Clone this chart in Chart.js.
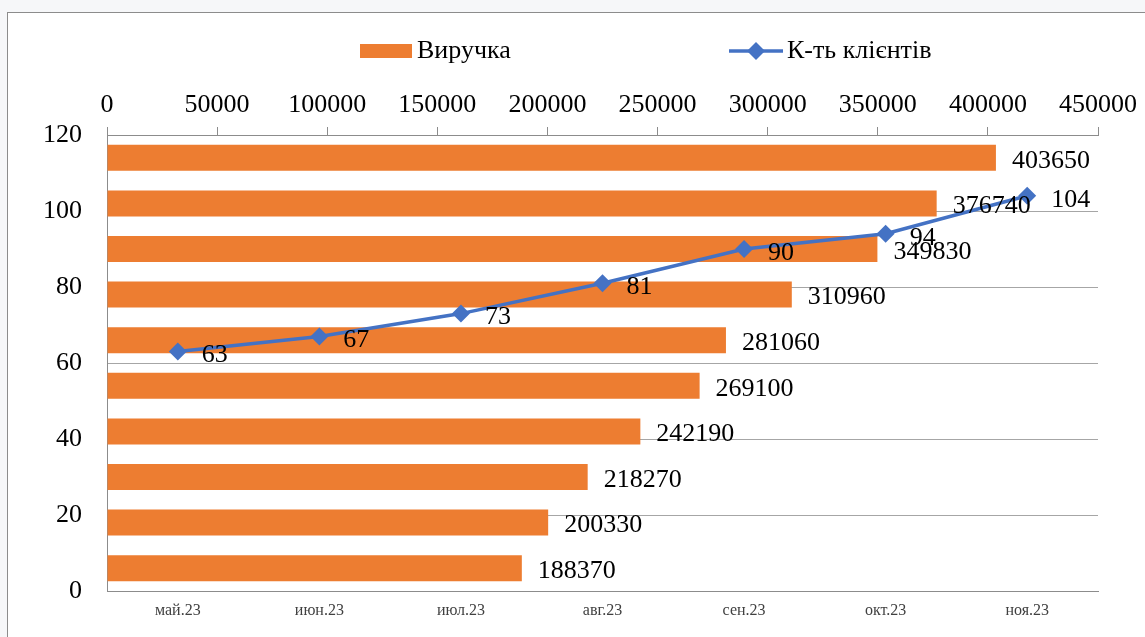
<!DOCTYPE html>
<html lang="uk">
<head>
<meta charset="utf-8">
<title>Виручка та кількість клієнтів</title>
<script src="https://cdn.jsdelivr.net/npm/chart.js@4/dist/chart.umd.min.js"></script>
<style>
  html, body { margin: 0; padding: 0; background: #f6f7f9; overflow: hidden; }
  #frame {
    position: absolute; left: 7px; top: 12px; width: 1200px; height: 700px;
    background: #fff; border-left: 1px solid #8c8c8c; border-top: 1px solid #8c8c8c;
  }
  #chart { position: absolute; left: 0; top: 0; }
</style>
</head>
<body>
<div id="frame"></div>
<canvas id="chart" width="1145" height="637"></canvas>
<script>
// bottom axis: months for the client count line
const months = ['май.23', 'июн.23', 'июл.23', 'авг.23', 'сен.23', 'окт.23', 'ноя.23'];
const clients = [63, 67, 73, 81, 90, 94, 104];

// horizontal revenue bars, listed from the bottom bar up
const revenueRows = ['1', '2', '3', '4', '5', '6', '7', '8', '9', '10'];
const revenue = [188370, 200330, 218270, 242190, 269100, 281060, 310960, 349830, 376740, 403650];

const seriesNames = ['Виручка', 'К-ть клієнтів'];
const revenueTicks = [0, 50000, 100000, 150000, 200000, 250000, 300000, 350000, 400000, 450000];
const clientTicks = [0, 20, 40, 60, 80, 100, 120];

const ORANGE = '#ED7D31';
const BLUE = '#4472C4';
const SERIF = "'Liberation Serif', 'Times New Roman', serif";
const AXIS = '#8c8c8c';

// value text next to every bar end and every line point
const valueLabels = {
  id: 'valueLabels',
  afterDatasetsDraw(chart) {
    const ctx = chart.ctx;
    ctx.save();
    ctx.font = '26px ' + SERIF;
    ctx.fillStyle = '#000';
    ctx.textAlign = 'left';
    ctx.textBaseline = 'middle';
    chart.data.datasets.forEach((ds, i) => {
      const meta = chart.getDatasetMeta(i);
      const bar = ds.type === 'bar';
      meta.data.forEach((el, j) => {
        ctx.fillText(String(ds.data[j]), el.x + (bar ? 16 : 24), el.y + (bar ? 3 : 4));
      });
    });
    ctx.restore();
  }
};

// one-row legend above the top axis
const legendRow = {
  id: 'legendRow',
  afterDraw(chart) {
    const ctx = chart.ctx;
    const y = 51;
    const bars = chart.data.datasets.find(d => d.type === 'bar');
    const line = chart.data.datasets.find(d => d.type === 'line');
    ctx.save();
    ctx.font = '26px ' + SERIF;
    ctx.textAlign = 'left';
    ctx.textBaseline = 'middle';

    ctx.fillStyle = bars.backgroundColor;
    ctx.fillRect(360, y - 7, 52, 14);
    ctx.fillStyle = '#000';
    ctx.fillText(bars.label, 417, y);

    ctx.strokeStyle = line.borderColor;
    ctx.lineWidth = 3.5;
    ctx.beginPath();
    ctx.moveTo(729, y);
    ctx.lineTo(783, y);
    ctx.stroke();
    ctx.fillStyle = line.borderColor;
    ctx.beginPath();
    ctx.moveTo(756, y - 9);
    ctx.lineTo(765, y);
    ctx.lineTo(756, y + 9);
    ctx.lineTo(747, y);
    ctx.closePath();
    ctx.fill();
    ctx.fillStyle = '#000';
    ctx.fillText(line.label, 787, y);
    ctx.restore();
  }
};

new Chart(document.getElementById('chart'), {
  type: 'bar',
  data: {
    datasets: [
      {
        type: 'line',
        label: seriesNames[1],
        data: clients,
        xAxisID: 'xBottom',
        yAxisID: 'yLeft',
        borderColor: BLUE,
        backgroundColor: BLUE,
        borderWidth: 3.5,
        pointStyle: 'rectRot',
        pointRadius: 9,
        pointBorderWidth: 0,
        pointBackgroundColor: BLUE,
        tension: 0,
        order: 0
      },
      {
        type: 'bar',
        label: seriesNames[0],
        data: revenue,
        indexAxis: 'y',
        xAxisID: 'xTop',
        yAxisID: 'yBar',
        backgroundColor: ORANGE,
        grouped: false,
        barPercentage: 0.57,
        categoryPercentage: 1,
        order: 1
      }
    ]
  },
  options: {
    responsive: false,
    animation: false,
    events: [],
    layout: { padding: { left: 0, right: 47, top: 0, bottom: 0 } },
    plugins: {
      legend: { display: false },
      tooltip: { enabled: false }
    },
    scales: {
      xTop: {
        axis: 'x',
        type: 'linear',
        position: 'top',
        offset: false,
        min: revenueTicks[0],
        max: revenueTicks[revenueTicks.length - 1],
        afterFit: s => { s.height = 135; },
        ticks: {
          stepSize: revenueTicks[1] - revenueTicks[0],
          callback: v => String(v),
          font: { family: SERIF, size: 26 },
          color: '#000',
          padding: 6,
          maxRotation: 0,
          autoSkip: false
        },
        grid: { offset: false, drawOnChartArea: false, drawTicks: true, tickLength: 8, color: AXIS },
        border: { display: true, color: AXIS }
      },
      yBar: {
        axis: 'y',
        type: 'category',
        labels: revenueRows,
        reverse: true,
        offset: true,
        display: false
      },
      xBottom: {
        axis: 'x',
        type: 'category',
        position: 'bottom',
        labels: months,
        offset: true,
        afterFit: s => { s.height = 46; },
        ticks: {
          font: { family: SERIF, size: 16 },
          color: '#404040',
          padding: 10,
          maxRotation: 0,
          autoSkip: false
        },
        grid: { display: false, drawTicks: false },
        border: { display: true, color: AXIS }
      },
      yLeft: {
        axis: 'y',
        type: 'linear',
        position: 'left',
        min: clientTicks[0],
        max: clientTicks[clientTicks.length - 1],
        afterFit: s => { s.width = 107; },
        ticks: {
          stepSize: clientTicks[1] - clientTicks[0],
          font: { family: SERIF, size: 26 },
          color: '#000',
          padding: 25
        },
        grid: { color: '#a6a6a6', drawTicks: false },
        border: { display: true, color: AXIS }
      }
    }
  },
  plugins: [valueLabels, legendRow]
});
</script>
</body>
</html>
